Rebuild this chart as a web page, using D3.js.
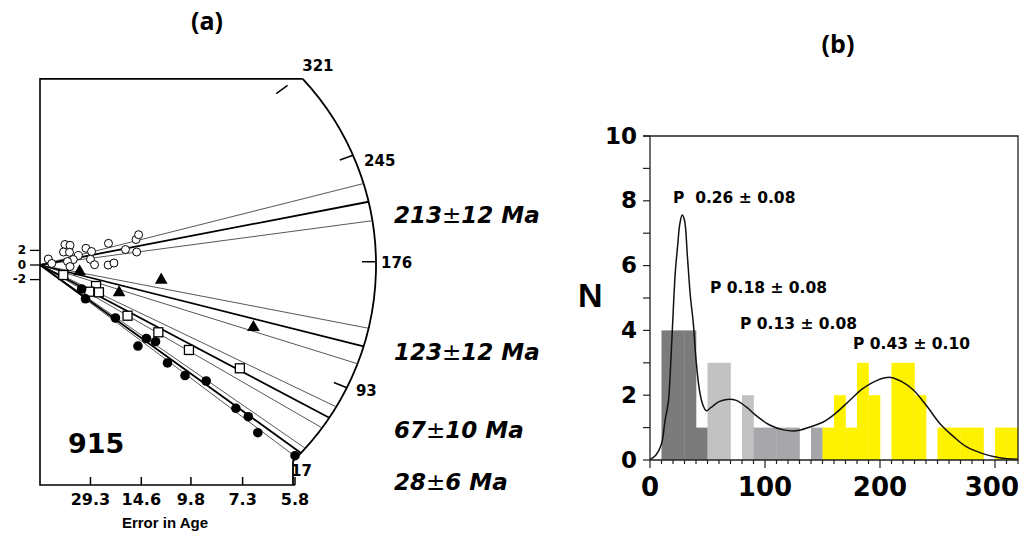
<!DOCTYPE html>
<html>
<head>
<meta charset="utf-8">
<script src="https://cdn.jsdelivr.net/npm/d3@7"></script>
<style>
  body { margin: 0; background: #fff; }
  text { font-family: 'DejaVu Sans', sans-serif; font-weight: bold; fill: #000; }
</style>
</head>
<body>
<svg id="chart" width="1021" height="536"></svg>
<script>
// ---------- panel (a): radial plot ----------
const errTicks = [29.3, 14.6, 9.8, 7.3, 5.8];
const zTicks = [2, 0, -2];
const arcAges = [321, 245, 176, 93, 17];
const centralAges = [213, 123, 67, 28];
const centralErrs = [12, 12, 10, 6];
const refAge = 174;           // age of the horizontal (z = 0) direction

// grains: [error in age (Ma), standardised estimate]
const grainsOpen = [[178, 0.82], [126, 0.21], [59.2, 2.81], [49.3, 2.70], [62.9, 1.78], [50.1, 1.74],
  [38.6, 1.30], [44.4, 0.75], [53.8, 0.48], [49.3, -0.21], [32.2, 2.29], [28.7, 1.85], [29.3, 0.78],
  [27.1, 0.04], [21.6, 2.97], [21.7, 0.0], [20.0, 0.27], [17.3, 2.12], [15.4, 3.49], [15.0, 4.15], [15.3, 1.78]];
const grainsTri = [[37.4, -0.89], [18.7, -3.79], [12.2, -2.05], [6.93, -8.53]];
const grainsSquare = [[63.5, -1.37], [26.4, -2.88], [30.0, -3.66], [25.1, -3.74], [16.9, -6.95],
  [12.5, -9.22], [9.93, -11.64], [7.4, -14.15]];
const grainsFilled = [[35.5, -3.29], [32.5, -4.63], [19.6, -7.26], [15.1, -11.10], [13.9, -10.07],
  [12.8, -10.51], [11.6, -13.42], [10.2, -15.14], [8.9, -15.89], [7.55, -19.63], [7.1, -20.78],
  [6.79, -22.97], [5.8, -26.12]];

// ---------- panel (b): histogram ----------
const binStarts = [0, 10, 20, 30, 40, 50, 60, 70, 80, 90, 100, 110, 120, 130, 140, 150,
  160, 170, 180, 190, 200, 210, 220, 230, 240, 250, 260, 270, 280, 290, 300, 310];
const binCounts = [0, 4, 4, 4, 1, 3, 3, 0, 2, 1, 1, 1, 1, 0, 1, 1, 2, 1, 3, 2, 0, 3, 3, 2, 0, 1, 1, 1, 1, 0, 1, 1];
const binGroup = [0, 0, 0, 0, 0, 1, 1, 1, 1, 2, 2, 2, 2, 2, 2, 3, 3, 3, 3, 3, 3, 3, 3, 3, 3, 3, 3, 3, 3, 3, 3, 3];
const groupColors = ["#7b7b7b", "#c2c2c2", "#a6a6ab", "#fff200"];
const densAge = [0, 5, 10, 13, 16, 17.5, 19.4, 22, 24, 26, 28, 30, 32.5, 35, 37.7, 40, 43, 46, 49, 53,
  60, 67, 75, 84, 92, 104, 116, 127, 139, 151, 162, 174, 185, 197, 209, 219, 229, 241, 252, 264, 275, 290, 304, 320];
const densN = [0.02, 0.15, 0.5, 1.2, 1.8, 2.6, 4.0, 5.8, 6.6, 7.3, 7.56, 7.4, 6.3, 5.1, 4.2, 3.1, 2.16, 1.7, 1.52, 1.62,
  1.8, 1.87, 1.84, 1.63, 1.38, 1.08, 0.93, 0.9, 1.02, 1.18, 1.46, 1.85, 2.2, 2.45, 2.55, 2.42, 2.16, 1.65, 1.13, 0.72,
  0.41, 0.19, 0.07, 0.02];
const peakLabels = ["P  0.26 \u00b1 0.08", "P 0.18 \u00b1 0.08", "P 0.13 \u00b1 0.08", "P 0.43 \u00b1 0.10"];
const peakLabelPos = [[673, 203], [710, 293], [740, 329], [853, 349]];

const svg = d3.select("#chart");
svg.append("rect").attr("width", 1021).attr("height", 536).attr("fill", "#fff");

// ===== panel (a) =====
const xA = d3.scaleLinear().domain([0, 1 / 5.8]).range([40, 295]);
const yA = d3.scaleLinear().domain([-2, 2]).range([279.6, 250.4]);
const zTop = 25.5;
const axisY = 485;
const ox = xA(0), oy = yA(0);
const k = (yA(0) - yA(1)) / (xA(1) - xA(0));
const arcC = [xA(0.0426), yA(0)];
const arcR = xA(0.0426 + 0.1846) - xA(0.0426);
const yTop = yA(zTop);

function ray(t) {
  const m = (t - refAge) * k;
  const len = Math.hypot(1, m), dx = 1 / len, dy = -m / len;
  const ex = ox - arcC[0], ey = oy - arcC[1];
  const b = dx * ex + dy * ey, c = ex * ex + ey * ey - arcR * arcR;
  const u = -b + Math.sqrt(b * b - c);
  return {dx: dx, dy: dy, u: u, x: ox + u * dx, y: oy + u * dy};
}

const gA = svg.append("g");

// frame
const topX = arcC[0] + Math.sqrt(arcR * arcR - (yTop - arcC[1]) ** 2);
const end17 = ray(17);
gA.append("path")
  .attr("d", `M${topX},${yTop} L${xA(0)},${yTop} L${xA(0)},${axisY} L${xA(1 / 5.8)},${axisY}`)
  .attr("fill", "none").attr("stroke", "#000").attr("stroke-width", 1.6);
gA.append("path")
  .attr("d", `M${topX},${yTop} A${arcR},${arcR} 0 0 1 ${end17.x},${end17.y} L${end17.x},${axisY}`)
  .attr("fill", "none").attr("stroke", "#000").attr("stroke-width", 1.8);

// arc ticks + labels
const arcLabelOff = [[2, -10], [11, 6], [5, 2], [9, 4], [-2, 10]];
arcAges.forEach((t, i) => {
  const r = ray(t);
  let uEnd = r.u;
  if (r.y < yTop + 3) uEnd = (yTop + 3 - oy) / r.dy - 6;
  if (t !== 17) {
    gA.append("line")
      .attr("x1", ox + (uEnd - 14) * r.dx).attr("y1", oy + (uEnd - 14) * r.dy)
      .attr("x2", ox + uEnd * r.dx).attr("y2", oy + uEnd * r.dy)
      .attr("stroke", "#000").attr("stroke-width", 1.5);
  }
  gA.append("text")
    .attr("x", r.x + arcLabelOff[i][0]).attr("y", r.y + arcLabelOff[i][1])
    .attr("dominant-baseline", "middle").attr("font-size", 15)
    .text(t);
});

// age lines: central value and +/- 1 sigma
centralAges.forEach((t, i) => {
  [t - centralErrs[i], t + centralErrs[i]].forEach(tt => {
    const r = ray(tt);
    gA.append("line").attr("x1", ox).attr("y1", oy).attr("x2", r.x).attr("y2", r.y)
      .attr("stroke", "#444").attr("stroke-width", 0.9);
  });
  const r = ray(t);
  gA.append("line").attr("x1", ox).attr("y1", oy).attr("x2", r.x).attr("y2", r.y)
    .attr("stroke", "#000").attr("stroke-width", 1.8);
});

// axes ticks
errTicks.forEach(e => {
  gA.append("line").attr("x1", xA(1 / e)).attr("x2", xA(1 / e))
    .attr("y1", axisY - 8).attr("y2", axisY).attr("stroke", "#000").attr("stroke-width", 1.5);
  gA.append("text").attr("x", xA(1 / e)).attr("y", axisY + 20)
    .attr("text-anchor", "middle").attr("font-size", 16).text(e);
});
zTicks.forEach(z => {
  gA.append("line").attr("x1", xA(0) - 10).attr("x2", xA(0))
    .attr("y1", yA(z)).attr("y2", yA(z)).attr("stroke", "#000").attr("stroke-width", 1.3);
  gA.append("text").attr("x", xA(0) - 14).attr("y", yA(z))
    .attr("dominant-baseline", "middle").attr("text-anchor", "end").attr("font-size", 12).text(z);
});
gA.append("text").attr("x", 165).attr("y", 528).attr("text-anchor", "middle")
  .style("font-family", "'Liberation Sans', Arial, sans-serif").attr("font-size", 15).text("Error in Age");
gA.append("text").attr("x", 68).attr("y", 453).attr("font-size", 27).text("915");

// grains
gA.selectAll(".go").data(grainsOpen).enter().append("circle")
  .attr("cx", d => xA(1 / d[0])).attr("cy", d => yA(d[1])).attr("r", 4)
  .attr("fill", "#fff").attr("stroke", "#000").attr("stroke-width", 1);
gA.selectAll(".gs").data(grainsSquare).enter().append("rect")
  .attr("x", d => xA(1 / d[0]) - 4.5).attr("y", d => yA(d[1]) - 4.5)
  .attr("width", 9).attr("height", 9)
  .attr("fill", "#fff").attr("stroke", "#000").attr("stroke-width", 1.3);
gA.selectAll(".gf").data(grainsFilled).enter().append("circle")
  .attr("cx", d => xA(1 / d[0])).attr("cy", d => yA(d[1])).attr("r", 4.8).attr("fill", "#000");
const tri = d3.symbol().type(d3.symbolTriangle).size(70);
gA.selectAll(".gt").data(grainsTri).enter().append("path")
  .attr("transform", d => `translate(${xA(1 / d[0])},${yA(d[1])})`)
  .attr("d", tri).attr("fill", "#000");

// age labels
const ageLabelY = [223, 360, 438, 490];
centralAges.forEach((t, i) => {
  const tx = gA.append("text").attr("x", 394).attr("y", ageLabelY[i])
    .attr("font-size", 23).attr("font-style", "italic");
  tx.append("tspan").text(t);
  tx.append("tspan").attr("font-weight", "normal").attr("font-style", "normal").text("\u00b1");
  tx.append("tspan").text(centralErrs[i] + " Ma");
});

// panel titles
svg.append("text").attr("x", 207).attr("y", 30).attr("text-anchor", "middle")
  .style("font-family", "'Open Sans', sans-serif").attr("font-size", 25).text("(a)");
svg.append("text").attr("x", 838).attr("y", 53).attr("text-anchor", "middle")
  .style("font-family", "'Open Sans', sans-serif").attr("font-size", 25).text("(b)");

// ===== panel (b) =====
const xB = d3.scaleLinear().domain([0, 320]).range([650, 1018]);
const yB = d3.scaleLinear().domain([0, 10]).range([460, 136]);
const gB = svg.append("g");

gB.selectAll(".bar").data(binStarts).enter().append("rect")
  .attr("x", d => xB(d)).attr("width", xB(10) - xB(0) + 0.3)
  .attr("y", (d, i) => yB(binCounts[i])).attr("height", (d, i) => yB(0) - yB(binCounts[i]))
  .attr("fill", (d, i) => groupColors[binGroup[i]]);

const line = d3.line().x((d, i) => xB(densAge[i])).y(d => yB(d)).curve(d3.curveCatmullRom);
gB.append("path").attr("d", line(densN)).attr("fill", "none")
  .attr("stroke", "#111").attr("stroke-width", 1.5);

// frame and axes
gB.append("path")
  .attr("d", `M${xB(0) - 7},${yB(10)} L${xB(320)},${yB(10)} L${xB(320)},${yB(0)} L${xB(0)},${yB(0)} L${xB(0)},${yB(10)}`)
  .attr("fill", "none").attr("stroke", "#222").attr("stroke-width", 1.3);
d3.range(0, 11).forEach(v => {
  gB.append("line").attr("x1", xB(0) - 7).attr("x2", xB(0)).attr("y1", yB(v)).attr("y2", yB(v))
    .attr("stroke", "#222").attr("stroke-width", 1.2);
});
[0, 2, 4, 6, 8, 10].forEach(v => {
  gB.append("text").attr("x", 637).attr("y", yB(v) + 1).attr("text-anchor", "end")
    .attr("dominant-baseline", "middle").attr("font-size", 23).text(v);
});
d3.range(0, 321, 10).forEach(v => {
  gB.append("line").attr("x1", xB(v)).attr("x2", xB(v)).attr("y1", yB(0))
    .attr("y2", yB(0) + (v % 100 === 0 ? 8 : 4)).attr("stroke", "#222").attr("stroke-width", 1.2);
});
[0, 100, 200, 300].forEach(v => {
  const t = gB.append("text").attr("x", xB(v)).attr("y", 496).attr("text-anchor", "middle")
    .attr("font-size", 26).text(v);
  const bb = t.node().getBBox();
  if (bb.x + bb.width > 1019) t.attr("x", xB(v) - (bb.x + bb.width - 1019));
});
gB.append("text").attr("x", 578).attr("y", 307)
  .style("font-family", "'Liberation Sans', Arial, sans-serif").attr("font-size", 34).text("N");

peakLabels.forEach((s, i) => {
  gB.append("text").attr("x", peakLabelPos[i][0]).attr("y", peakLabelPos[i][1])
    .attr("font-size", 15.5).style("white-space", "pre").text(s);
});
</script>
</body>
</html>
